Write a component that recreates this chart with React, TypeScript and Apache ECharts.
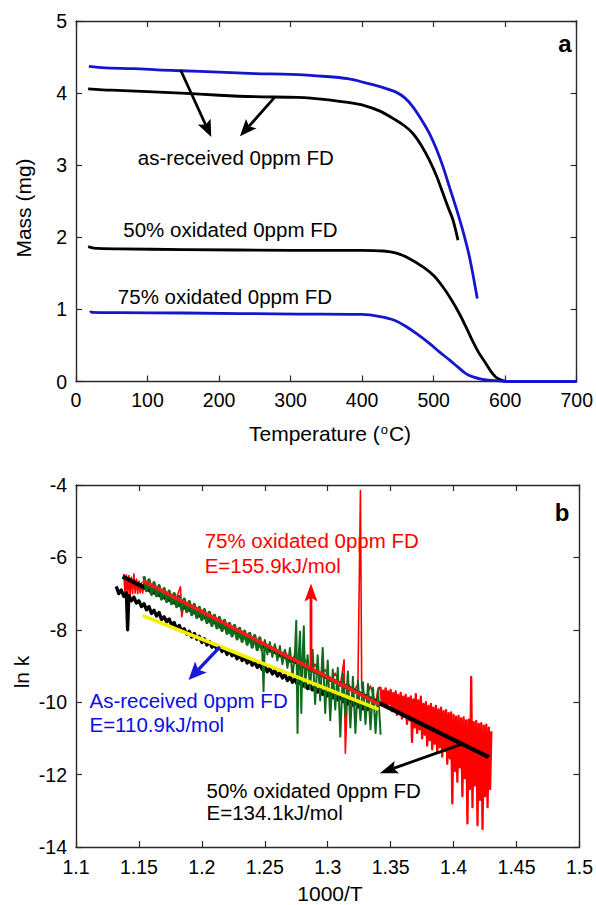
import { useEffect, useRef } from "react";
import * as echarts from "echarts";

const FONT = "'Liberation Sans', Arial, Helvetica, sans-serif";

// ---------- Panel a : Mass (mg) vs Temperature (°C) ----------
const tempTicks = { min: 0, max: 700, interval: 100 };
const massTicks = { min: 0, max: 5, interval: 1 };

const massBlueTop: number[][] = [
  [18, 4.37], [40, 4.35], [80, 4.34], [120, 4.32], [146, 4.31], [200, 4.29], [250, 4.27],
  [300, 4.26], [350, 4.23], [380, 4.2], [402, 4.15], [425, 4.09], [448, 4.01], [460, 3.93],
  [471, 3.81], [483, 3.63], [494, 3.44], [504, 3.22], [513, 2.98], [522, 2.7], [531, 2.42],
  [540, 2.12], [550, 1.73], [561, 1.15],
];
const massBlackTop: number[][] = [
  [17, 4.06], [50, 4.04], [100, 4.02], [147, 4.0], [200, 3.97], [250, 3.95], [310, 3.94],
  [350, 3.91], [380, 3.87], [402, 3.83], [425, 3.75], [448, 3.62], [460, 3.54], [471, 3.44],
  [483, 3.27], [494, 3.07], [504, 2.85], [513, 2.61], [520, 2.42], [527, 2.24], [534, 1.96],
];
const massBlackMid: number[][] = [
  [17, 1.87], [25, 1.85], [60, 1.84], [150, 1.83], [300, 1.82], [400, 1.82], [430, 1.81],
  [448, 1.78], [465, 1.71], [485, 1.59], [500, 1.47], [513, 1.31], [525, 1.13], [536, 0.94],
  [545, 0.76], [554, 0.57], [563, 0.4], [573, 0.25], [580, 0.14], [586, 0.07], [592, 0.03],
  [598, 0.01], [605, 0], [620, 0],
];
const massBlueLow: number[][] = [
  [20, 0.98], [22, 0.96], [60, 0.955], [150, 0.95], [310, 0.935], [400, 0.93], [425, 0.9],
  [445, 0.85], [462, 0.76], [478, 0.65], [494, 0.53], [508, 0.41], [522, 0.3], [534, 0.2],
  [545, 0.11], [556, 0.06], [568, 0.03], [580, 0.015], [591, 0.01], [600, 0], [650, 0], [700, 0],
];

// ---------- Panel b : ln k vs 1000/T ----------
const invTTicks = { min: 1.1, max: 1.5, interval: 0.05 };
const lnkTicks = { min: -14, max: -4, interval: 2 };

const lnkBlackData: number[][] = [
  [1.132, -6.8], [1.134, -7.0], [1.136, -6.9], [1.138, -7.08], [1.14, -6.98], [1.141, -8.0],
  [1.142, -7.05], [1.144, -7.2], [1.146, -7.1], [1.148, -7.26], [1.15, -7.2], [1.152, -7.36],
  [1.154, -7.28], [1.156, -7.45], [1.158, -7.36], [1.16, -7.55], [1.162, -7.46], [1.164, -7.62],
  [1.166, -7.52], [1.168, -7.72], [1.17, -7.64], [1.172, -7.78], [1.174, -7.7], [1.176, -7.88],
  [1.178, -7.8], [1.18, -7.98], [1.182, -7.88], [1.184, -8.04], [1.186, -7.97], [1.188, -8.12],
  [1.19, -8.04], [1.192, -8.2], [1.194, -8.1], [1.196, -8.26], [1.198, -8.18], [1.2, -8.35],
  [1.202, -8.25], [1.204, -8.42], [1.206, -8.32], [1.208, -8.48], [1.21, -8.4], [1.212, -8.55],
  [1.214, -8.46], [1.216, -8.6], [1.218, -8.52], [1.22, -8.68], [1.222, -8.58], [1.224, -8.72],
  [1.226, -8.64], [1.228, -8.8], [1.23, -8.7], [1.232, -8.85], [1.234, -8.76], [1.236, -8.92],
  [1.238, -8.82], [1.24, -8.98], [1.242, -8.88], [1.244, -9.04], [1.246, -8.95], [1.248, -9.1],
  [1.25, -9.0], [1.252, -9.16], [1.254, -9.06], [1.256, -9.22], [1.258, -9.12], [1.26, -9.28],
  [1.262, -9.18], [1.264, -9.33], [1.266, -9.24], [1.268, -9.4], [1.27, -9.3], [1.272, -9.45],
  [1.274, -9.36], [1.276, -9.52], [1.278, -9.42], [1.28, -9.56], [1.282, -9.47], [1.284, -9.62],
  [1.286, -9.52], [1.288, -9.66], [1.29, -9.58], [1.292, -9.72], [1.294, -9.62], [1.296, -9.78],
  [1.298, -9.68], [1.3, -9.82], [1.302, -9.73], [1.304, -9.88], [1.306, -9.78], [1.308, -9.93],
  [1.31, -9.84], [1.312, -9.98], [1.314, -9.88], [1.316, -10.04], [1.318, -9.94], [1.32, -10.08],
  [1.322, -9.99], [1.324, -10.13], [1.326, -10.03], [1.328, -10.18], [1.33, -10.08], [1.332, -10.2],
  [1.334, -10.1],
];

const lnkRedData: number[][] = [
  [1.138, -6.45], [1.139, -7.05], [1.14, -6.48], [1.141, -7.1], [1.142, -6.5], [1.143, -7.05],
  [1.144, -6.55], [1.145, -7.0], [1.146, -6.45], [1.147, -6.98], [1.148, -6.6], [1.149, -7.0],
  [1.15, -6.65], [1.151, -6.98], [1.152, -6.7], [1.153, -6.98], [1.154, -6.72],
  [1.156, -6.78], [1.16, -7.05], [1.164, -6.88], [1.168, -7.15], [1.172, -6.98],
  [1.176, -7.28], [1.18, -7.1], [1.183, -6.81], [1.184, -7.64], [1.186, -7.25], [1.19, -7.45],
  [1.194, -7.35], [1.198, -7.65], [1.202, -7.5], [1.206, -7.8], [1.21, -7.62], [1.214, -7.95],
  [1.218, -7.78], [1.222, -8.1], [1.226, -7.92], [1.23, -8.22], [1.234, -8.05], [1.238, -8.35],
  [1.242, -8.18], [1.246, -8.48], [1.25, -8.32], [1.254, -8.62], [1.258, -8.45], [1.262, -8.75],
  [1.266, -8.58], [1.27, -8.9], [1.274, -8.7], [1.278, -9.02], [1.282, -8.82], [1.286, -9.15],
  [1.29, -8.95], [1.294, -9.3], [1.298, -9.1], [1.302, -9.42], [1.306, -9.2], [1.31, -9.55],
  [1.313, -8.83], [1.314, -11.41], [1.316, -9.45], [1.32, -9.75], [1.324, -9.5], [1.326, -4.15],
  [1.327, -9.6], [1.33, -9.9], [1.334, -9.55], [1.338, -10.05], [1.34, -9.62],
];
const lnkRedTail: number[][] = [
  [1.34, -9.62],
  [1.342, -9.6], [1.343, -10.02], [1.344, -9.68], [1.345, -10.1], [1.346, -9.62], [1.347, -10.15],
  [1.348, -9.7], [1.349, -10.05], [1.35, -9.66], [1.351, -10.25], [1.352, -9.75], [1.353, -10.2],
  [1.354, -9.7], [1.355, -10.35], [1.356, -9.8], [1.357, -10.3], [1.358, -9.74], [1.359, -10.45],
  [1.36, -9.85], [1.361, -10.4], [1.362, -9.8], [1.363, -10.6], [1.364, -9.88], [1.365, -10.5],
  [1.366, -9.84], [1.367, -11.1], [1.368, -9.92], [1.369, -10.7], [1.37, -9.78], [1.371, -10.85],
  [1.372, -9.95], [1.373, -10.75], [1.374, -9.85], [1.375, -11.0], [1.376, -10.05], [1.377, -10.9],
  [1.378, -10.0], [1.379, -11.2], [1.38, -10.1], [1.381, -11.05], [1.382, -10.05], [1.383, -11.3],
  [1.384, -10.15], [1.385, -11.15], [1.386, -10.1], [1.387, -11.4], [1.388, -10.2], [1.389, -11.25],
  [1.39, -10.15], [1.391, -11.5], [1.392, -10.25], [1.393, -11.35], [1.394, -10.22], [1.395, -11.7],
  [1.396, -10.3], [1.397, -11.55], [1.398, -10.28], [1.399, -12.8], [1.4, -10.35], [1.401, -11.9],
  [1.402, -10.4], [1.403, -12.2], [1.404, -10.38], [1.405, -11.8], [1.406, -10.45], [1.407, -12.6],
  [1.408, -10.42], [1.409, -12.1], [1.41, -10.5], [1.411, -13.35], [1.412, -10.48], [1.413, -12.4],
  [1.414, -9.3], [1.415, -12.9], [1.416, -10.55], [1.417, -12.3], [1.418, -10.52], [1.419, -13.4],
  [1.42, -10.6], [1.421, -12.7], [1.422, -10.58], [1.423, -13.5], [1.424, -10.65], [1.425, -12.6],
  [1.426, -10.62], [1.427, -12.9], [1.428, -10.7], [1.429, -12.4], [1.43, -10.8],
];

const lnkGreenEarly: number[][] = [
  [1.154, -6.52], [1.156, -6.92], [1.158, -6.62], [1.16, -7.0], [1.162, -6.7], [1.164, -7.06],
  [1.166, -6.78], [1.168, -7.15], [1.17, -6.86], [1.172, -7.22], [1.174, -6.93], [1.176, -7.28],
  [1.178, -7.0], [1.18, -7.36], [1.182, -7.08], [1.184, -7.44], [1.186, -7.15], [1.188, -7.5],
  [1.19, -7.22], [1.192, -7.58], [1.194, -7.3], [1.196, -7.66], [1.198, -7.38], [1.2, -7.72],
  [1.202, -7.44], [1.204, -7.8], [1.206, -7.52], [1.208, -7.88], [1.21, -7.6], [1.212, -7.95],
  [1.214, -7.66], [1.216, -8.02], [1.218, -7.74], [1.22, -8.1], [1.222, -7.82], [1.224, -8.17],
  [1.226, -7.88], [1.228, -8.25], [1.23, -7.96], [1.232, -8.32], [1.234, -8.04], [1.236, -8.4],
  [1.238, -8.1], [1.24, -8.48], [1.242, -8.16], [1.244, -8.55], [1.246, -8.22], [1.248, -8.6],
];
const lnkGreenNoisy: number[][] = [
  [1.248, -8.6], [1.249, -9.7], [1.25, -8.28], [1.252, -8.68], [1.254, -8.34], [1.256, -8.75],
  [1.258, -8.4], [1.26, -8.85], [1.262, -8.45], [1.264, -8.95], [1.266, -8.55], [1.268, -9.05],
  [1.27, -8.5], [1.272, -9.3], [1.274, -8.6], [1.275, -7.75], [1.276, -10.85], [1.277, -8.7],
  [1.278, -8.05], [1.279, -10.3], [1.28, -8.75], [1.281, -7.9], [1.282, -9.6], [1.284, -8.7],
  [1.286, -9.65], [1.288, -8.55], [1.29, -10.05], [1.292, -8.7], [1.294, -9.95], [1.296, -8.5],
  [1.298, -10.3], [1.3, -8.85], [1.302, -10.5], [1.304, -9.1], [1.306, -10.2], [1.308, -9.05],
  [1.31, -10.95], [1.312, -9.2], [1.314, -10.4], [1.316, -9.15], [1.318, -10.7], [1.32, -9.3],
  [1.322, -10.85], [1.324, -9.4], [1.326, -10.5], [1.328, -9.45], [1.33, -10.6], [1.332, -9.5],
  [1.334, -10.75], [1.336, -9.6], [1.338, -10.85], [1.34, -9.65], [1.342, -10.9],
];

const fitBlack: number[][] = [[1.137, -6.53], [1.428, -11.52]];
const fitRed: number[][] = [[1.153, -6.64], [1.3405, -10.05]];
const fitYellow: number[][] = [[1.153, -7.61], [1.3405, -10.2]];

// ---------- annotations (data coordinates) ----------
const arrowsA = [
  { from: [146.2, 4.32], to: [189.1, 3.39], color: "#000000" },
  { from: [277.6, 3.94], to: [229.2, 3.4], color: "#000000" },
];
const arrowsB = [
  { from: [1.2867, -9.15], to: [1.2867, -6.72], color: "#ff0000" },
  { from: [1.2143, -8.47], to: [1.1894, -9.39], color: "#1a1ad6" },
  { from: [1.4066, -11.16], to: [1.3414, -11.96], color: "#000000" },
];
const labelsA = [
  { text: "as-received 0ppm FD", at: [223.4, 3.11] },
  { text: "50% oxidated 0ppm FD", at: [215.8, 2.11] },
  { text: "75% oxidated 0ppm FD", at: [208.2, 1.18] },
];
const labelsB = [
  { text: "75% oxidated 0ppm FD", at: [1.2022, -5.54], color: "#ff0000" },
  { text: "E=155.9kJ/mol", at: [1.2022, -6.21], color: "#ff0000" },
  { text: "As-received 0ppm FD", at: [1.1107, -9.94], color: "#0d0de6" },
  { text: "E=110.9kJ/mol", at: [1.1107, -10.61], color: "#0d0de6" },
  { text: "50% oxidated 0ppm FD", at: [1.2037, -12.43], color: "#000000" },
  { text: "E=134.1kJ/mol", at: [1.2037, -13.06], color: "#000000" },
];

const AXIS_COLOR = "#2a2a2a";

function xAxis(grid: number, t: any, pos: string, show: boolean, margin: number, fmt?: any) {
  return {
    type: "value", gridIndex: grid, position: pos, min: t.min, max: t.max, interval: t.interval,
    axisLine: { show: true, onZero: false, lineStyle: { color: AXIS_COLOR, width: 1.4 } },
    axisTick: { show: true, inside: true, length: 6, lineStyle: { color: AXIS_COLOR, width: 1.2 } },
    axisLabel: { show, margin, fontSize: 19.5, color: "#000", fontFamily: FONT, formatter: fmt },
    splitLine: { show: false },
  };
}
function yAxis(grid: number, t: any, pos: string, show: boolean, margin: number) {
  return {
    type: "value", gridIndex: grid, position: pos, min: t.min, max: t.max, interval: t.interval,
    axisLine: { show: true, onZero: false, lineStyle: { color: AXIS_COLOR, width: 1.4 } },
    axisTick: { show: true, inside: true, length: 6, lineStyle: { color: AXIS_COLOR, width: 1.2 } },
    axisLabel: { show, margin, fontSize: 19.5, color: "#000", fontFamily: FONT },
    splitLine: { show: false },
  };
}
function line(name: string, data: number[][], color: string, width: number, xi: number, yi: number, smooth: any = false) {
  return {
    name, type: "line", data, xAxisIndex: xi, yAxisIndex: yi, showSymbol: false, symbol: "none",
    smooth, lineStyle: { color, width, join: "round" }, itemStyle: { color }, silent: true,
  };
}

export default function App() {
  const ref = useRef<HTMLDivElement>(null);
  useEffect(() => {
    document.body.style.margin = "0";
    const chart = echarts.init(ref.current!, null, { renderer: "svg" });
    const fmtB = (v: number) => String(Math.round(v * 100) / 100);
    const option: any = {
      animation: false,
      backgroundColor: "#ffffff",
      grid: [
        { left: 76, top: 21, width: 506, height: 360.5 },
        { left: 76, top: 485, width: 506, height: 362 },
      ],
      xAxis: [
        xAxis(0, tempTicks, "bottom", true, 8),
        xAxis(0, tempTicks, "top", false, 8),
        xAxis(1, invTTicks, "bottom", true, 10, fmtB),
        xAxis(1, invTTicks, "top", false, 10),
      ],
      yAxis: [
        yAxis(0, massTicks, "left", true, 9),
        yAxis(0, massTicks, "right", false, 9),
        yAxis(1, lnkTicks, "left", true, 9),
        yAxis(1, lnkTicks, "right", false, 9),
      ],
      series: [
        line("blueTop", massBlueTop, "#1515d0", 2.8, 0, 0, 0.3),
        line("blackTop", massBlackTop, "#000000", 2.8, 0, 0, 0.3),
        line("blackMid", massBlackMid, "#000000", 2.8, 0, 0, 0.3),
        line("blueLow", massBlueLow, "#1515d0", 2.8, 0, 0, 0.3),
        line("red75", lnkRedData, "#ff0000", 1.6, 2, 2),
        line("red75tail", lnkRedTail, "#ff0000", 2.3, 2, 2),
        line("blackAR", lnkBlackData, "#000000", 3.3, 2, 2),
        line("fitBlack", fitBlack, "#000000", 4.2, 2, 2),
        line("green50a", lnkGreenEarly, "#0e6a1c", 3.2, 2, 2),
        line("green50b", lnkGreenNoisy, "#0e6a1c", 2.0, 2, 2),
        line("fitYellow", fitYellow, "#f5f000", 3.6, 2, 2),
        line("fitRed", fitRed, "#ff1a1a", 3.6, 2, 2),
      ],
    };
    chart.setOption(option);

    const toA = (p: number[]) => chart.convertToPixel({ gridIndex: 0 }, p) as number[];
    const toB = (p: number[]) => chart.convertToPixel({ gridIndex: 1 }, p) as number[];
    const g: any[] = [];
    const arrow = (p1: number[], p2: number[], color: string, w: number, hl: number, hw: number) => {
      const dx = p2[0] - p1[0], dy = p2[1] - p1[1];
      const len = Math.hypot(dx, dy);
      const ux = dx / len, uy = dy / len, nx = -uy, ny = ux;
      const bx = p2[0] - ux * hl, by = p2[1] - uy * hl;
      const mx = p2[0] - ux * hl * 0.8, my = p2[1] - uy * hl * 0.8;
      g.push({ type: "line", silent: true, z: 50, shape: { x1: p1[0], y1: p1[1], x2: mx, y2: my },
        style: { stroke: color, lineWidth: w } });
      g.push({ type: "polygon", silent: true, z: 51, shape: { points: [
        [p2[0], p2[1]], [bx + nx * hw / 2, by + ny * hw / 2], [mx, my], [bx - nx * hw / 2, by - ny * hw / 2],
      ] }, style: { fill: color } });
    };
    arrowsA.forEach((a) => arrow(toA(a.from), toA(a.to), a.color, 2.8, 17, 14));
    arrowsB.forEach((a, i) => arrow(toB(a.from), toB(a.to), a.color, i === 1 ? 3.4 : 2.8, 18, i === 1 ? 16 : 13));
    labelsA.forEach((l) => {
      const p = toA(l.at);
      g.push({ type: "text", x: p[0], y: p[1], z: 60, silent: true,
        style: { text: l.text, fill: "#000", fontSize: 20.5, fontFamily: FONT,
          align: "center", verticalAlign: "middle", textAlign: "center", textVerticalAlign: "middle" } });
    });
    labelsB.forEach((l) => {
      const p = toB(l.at);
      g.push({ type: "text", x: p[0], y: p[1], z: 60, silent: true,
        style: { text: l.text, fill: l.color, fontSize: 20.5, fontFamily: FONT,
          align: "left", verticalAlign: "middle", textAlign: "left", textVerticalAlign: "middle" } });
    });
    const title = (text: string, x: number, y: number, rot: number, extra: any = {}) =>
      g.push({ type: "text", x, y, rotation: rot, z: 60, silent: true,
        style: { text, fill: "#000", fontSize: 21, fontFamily: FONT, align: "center", verticalAlign: "middle",
          textAlign: "center", textVerticalAlign: "middle", ...extra } });
    title("a", 565, 43, 0, { fontSize: 24, fontWeight: "bold" });
    title("b", 562, 512, 0, { fontSize: 24, fontWeight: "bold" });
    title("Mass (mg)", 23, 208, Math.PI / 2);
    title("ln k", 21, 672, Math.PI / 2);
    title("1000/T", 330, 893, 0);
    title("Temperature ({s|o}C)", 330, 433, 0, {
      rich: { s: { fontSize: 13, fontFamily: FONT, fill: "#000", verticalAlign: "top", lineHeight: 13, padding: [0, 1, 0, 1] } },
    });
    chart.setOption({ graphic: g });
    return () => chart.dispose();
  }, []);
  return <div ref={ref} style={{ width: 596, height: 905 }} />;
}
